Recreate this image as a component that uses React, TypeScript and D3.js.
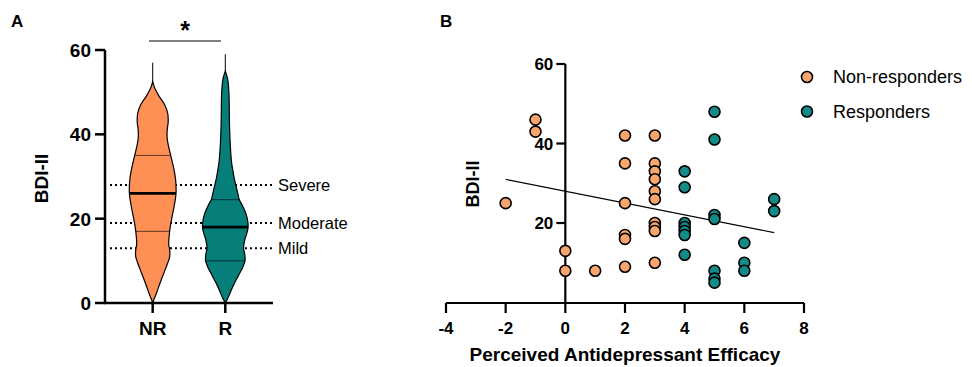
import React from "react";
import * as d3 from "d3";

// Panel A: violin profiles (BDI-II level -> relative density)
const groups = ["NR", "R"];
const nrLevels = [0, 1, 2.5, 4.5, 7, 9.5, 11, 12.5, 14, 16, 18, 20, 23, 26, 29, 32, 35, 37, 39, 41, 43, 45, 47, 49, 51, 52.5];
const nrDensity = [0, 1.5, 4, 7, 11, 15, 17, 17, 16, 16.5, 17.5, 19, 21.5, 23.3, 23, 21, 18, 16, 14.5, 14.5, 15.5, 15, 12, 6.5, 2, 0];
const rLevels = [0, 1, 2.5, 4.3, 6.6, 8.5, 10, 11.5, 13, 15, 16.5, 18, 20, 21.6, 23.2, 24.5, 26, 27.5, 29.5, 31.5, 33.5, 37.4, 41.4, 45.3, 49.5, 52, 53.5, 55];
const rDensity = [0, 2.3, 5, 8.3, 13.3, 17.5, 19.7, 19.5, 18.3, 19.5, 21.5, 22.8, 22, 20, 17, 14, 12.5, 11, 9, 7.5, 6.2, 5, 4.3, 4, 3.7, 3, 2, 0];
const nrMax = 57;
const rMax = 59;
const nrQuartiles = [17, 26, 35];
const rQuartiles = [10, 18, 24.5];
const severityLabels = ["Mild", "Moderate", "Severe"];
const severityCutoffs = [13, 19, 28];
const yTicksA = [0, 20, 40, 60];

// Panel B: perceived efficacy vs BDI-II
const nrEfficacy = [-2, -1, -1, 0, 0, 1, 2, 2, 2, 2, 2, 2, 3, 3, 3, 3, 3, 3, 3, 3, 3, 3];
const nrBdi = [25, 46, 43, 13, 8, 8, 42, 35, 25, 17, 16, 9, 42, 35, 33, 31, 28, 26, 20, 19, 18, 10];
const rEfficacy = [4, 4, 4, 4, 4, 4, 4, 5, 5, 5, 5, 5, 5, 5, 6, 6, 6, 7, 7];
const rBdi = [33, 29, 20, 19, 18, 17, 12, 48, 41, 22, 21, 8, 6, 5, 15, 10, 8, 26, 23];
const fitRange = [-2, 7];
const fitIntercept = 28.0;
const fitSlope = -1.49;
const xTicksB = [-4, -2, 0, 2, 4, 6, 8];
const yTicksB = [20, 40, 60];
const legendLabels = ["Non-responders", "Responders"];

const FONT = "'Liberation Sans', Arial, Helvetica, sans-serif";
const violinFill = ["#FE9056", "#067F7B"];
const dotFill = ["#F9A66E", "#138B88"];

export default function App() {
  // ---------- panel A scales ----------
  const yA = d3.scaleLinear().domain([0, 60]).range([303, 50]);
  const xA = d3.scalePoint<string>().domain(groups).range([152.7, 225.3]);
  const halfWidth = d3.scaleLinear().domain([0, 25]).range([0, 25]);

  const violins = [
    { key: "NR", levels: nrLevels, density: nrDensity, max: nrMax, q: nrQuartiles },
    { key: "R", levels: rLevels, density: rDensity, max: rMax, q: rQuartiles },
  ];

  const violinPath = (cx: number, levels: number[], density: number[]) => {
    const pts = levels.map((l, i) => [l, density[i]] as [number, number]);
    return d3
      .area<[number, number]>()
      .curve(d3.curveCatmullRom)
      .y((d) => yA(d[0]))
      .x0((d) => cx - halfWidth(d[1]))
      .x1((d) => cx + halfWidth(d[1]))(pts) as string;
  };

  // ---------- panel B scales ----------
  const xB = d3.scaleLinear().domain([-4, 8]).range([446, 804]);
  const yB = d3.scaleLinear().domain([0, 60]).range([302.5, 64]);
  const fitLine = d3
    .line<number>()
    .x((d) => xB(d))
    .y((d) => yB(fitIntercept + fitSlope * d))(fitRange) as string;

  const series = [
    { xs: nrEfficacy, ys: nrBdi, fill: dotFill[0] },
    { xs: rEfficacy, ys: rBdi, fill: dotFill[1] },
  ];

  return (
    <svg
      width={972}
      height={367}
      style={{ position: "absolute", left: 0, top: 0, background: "#fff" }}
      fontFamily={FONT}
    >
      {/* ================= A ================= */}
      <text x={11} y={27} fontSize={17} fontWeight="bold">A</text>

      {/* severity cutoffs (behind violins) */}
      {severityCutoffs.map((c, i) => (
        <g key={c}>
          <line x1={110} x2={273} y1={yA(c)} y2={yA(c)} stroke="#000" strokeWidth={2} strokeDasharray="2 3" />
          <text x={278} y={yA(c)} dy="0.35em" fontSize={16.5}>{severityLabels[i]}</text>
        </g>
      ))}

      {violins.map((v, i) => {
        const cx = xA(v.key) as number;
        const dens = d3.scaleLinear().domain(v.levels).range(v.density);
        const top = v.levels[v.levels.length - 1];
        return (
          <g key={v.key}>
            <line x1={cx} x2={cx} y1={yA(v.max)} y2={yA(top)} stroke="#000" strokeWidth={1} />
            <path d={violinPath(cx, v.levels, v.density)} fill={violinFill[i]} stroke="#000" strokeWidth={1.2} />
            {v.q.map((q, j) => {
              const w = halfWidth(dens(q));
              return (
                <line
                  key={j}
                  x1={cx - w}
                  x2={cx + w}
                  y1={yA(q)}
                  y2={yA(q)}
                  stroke="#000"
                  strokeOpacity={j === 1 ? 1 : 0.7}
                  strokeWidth={j === 1 ? 2.6 : 0.9}
                />
              );
            })}
          </g>
        );
      })}

      {/* axes A */}
      <line x1={105} x2={105} y1={yA(60)} y2={yA(0)} stroke="#000" strokeWidth={2.5} />
      <line x1={104} x2={273} y1={yA(0)} y2={yA(0)} stroke="#000" strokeWidth={2.5} />
      {yTicksA.map((t) => (
        <g key={t}>
          <line x1={95} x2={105} y1={yA(t)} y2={yA(t)} stroke="#000" strokeWidth={2.5} />
          <text x={91} y={yA(t)} dy="0.36em" textAnchor="end" fontSize={19} fontWeight="bold">{t}</text>
        </g>
      ))}
      {groups.map((g) => (
        <g key={g}>
          <line x1={xA(g)} x2={xA(g)} y1={yA(0)} y2={313} stroke="#000" strokeWidth={2.5} />
          <text x={xA(g)} y={335} textAnchor="middle" fontSize={19} fontWeight="bold">{g}</text>
        </g>
      ))}
      <text
        transform={`translate(48,${(yA(0) + yA(60)) / 2 + 2}) rotate(-90)`}
        textAnchor="middle"
        fontSize={19}
        fontWeight="bold"
      >
        BDI-II
      </text>

      {/* significance */}
      <line x1={149} x2={221} y1={41} y2={41} stroke="#000" strokeWidth={1.2} />
      <text x={185} y={39} textAnchor="middle" fontSize={25} fontWeight="bold">*</text>

      {/* ================= B ================= */}
      <text x={440} y={27} fontSize={17} fontWeight="bold">B</text>

      {/* axes B */}
      <line x1={xB(0)} x2={xB(0)} y1={yB(60)} y2={yB(0)} stroke="#000" strokeWidth={2.2} />
      <line x1={xB(-4)} x2={xB(8)} y1={303} y2={303} stroke="#000" strokeWidth={2.2} />
      {yTicksB.map((t) => (
        <g key={t}>
          <line x1={xB(0) - 9} x2={xB(0)} y1={yB(t)} y2={yB(t)} stroke="#000" strokeWidth={2.2} />
          <text x={xB(0) - 12} y={yB(t)} dy="0.36em" textAnchor="end" fontSize={17} fontWeight="bold">{t}</text>
        </g>
      ))}
      {xTicksB.map((t) => (
        <g key={t}>
          <line x1={xB(t)} x2={xB(t)} y1={303} y2={313} stroke="#000" strokeWidth={2.2} />
          <text x={xB(t)} y={334} textAnchor="middle" fontSize={17} fontWeight="bold">{t}</text>
        </g>
      ))}
      <text x={625} y={361} textAnchor="middle" fontSize={19} fontWeight="bold">
        Perceived Antidepressant Efficacy
      </text>
      <text
        transform={`translate(479,184) rotate(-90)`}
        textAnchor="middle"
        fontSize={18}
        fontWeight="bold"
      >
        BDI-II
      </text>

      <path d={fitLine} fill="none" stroke="#000" strokeWidth={1.1} />

      {series.map((s, si) =>
        s.xs.map((x, i) => (
          <circle
            key={`${si}-${i}`}
            cx={xB(x)}
            cy={yB(s.ys[i])}
            r={5.5}
            fill={s.fill}
            stroke="#000"
            strokeWidth={1.6}
          />
        ))
      )}

      {/* legend */}
      {legendLabels.map((l, i) => (
        <g key={l}>
          <circle cx={807} cy={77 + i * 34.5} r={5.5} fill={dotFill[i]} stroke="#000" strokeWidth={1.6} />
          <text x={833} y={77 + i * 34.5} dy="0.36em" fontSize={18}>{l}</text>
        </g>
      ))}
    </svg>
  );
}
